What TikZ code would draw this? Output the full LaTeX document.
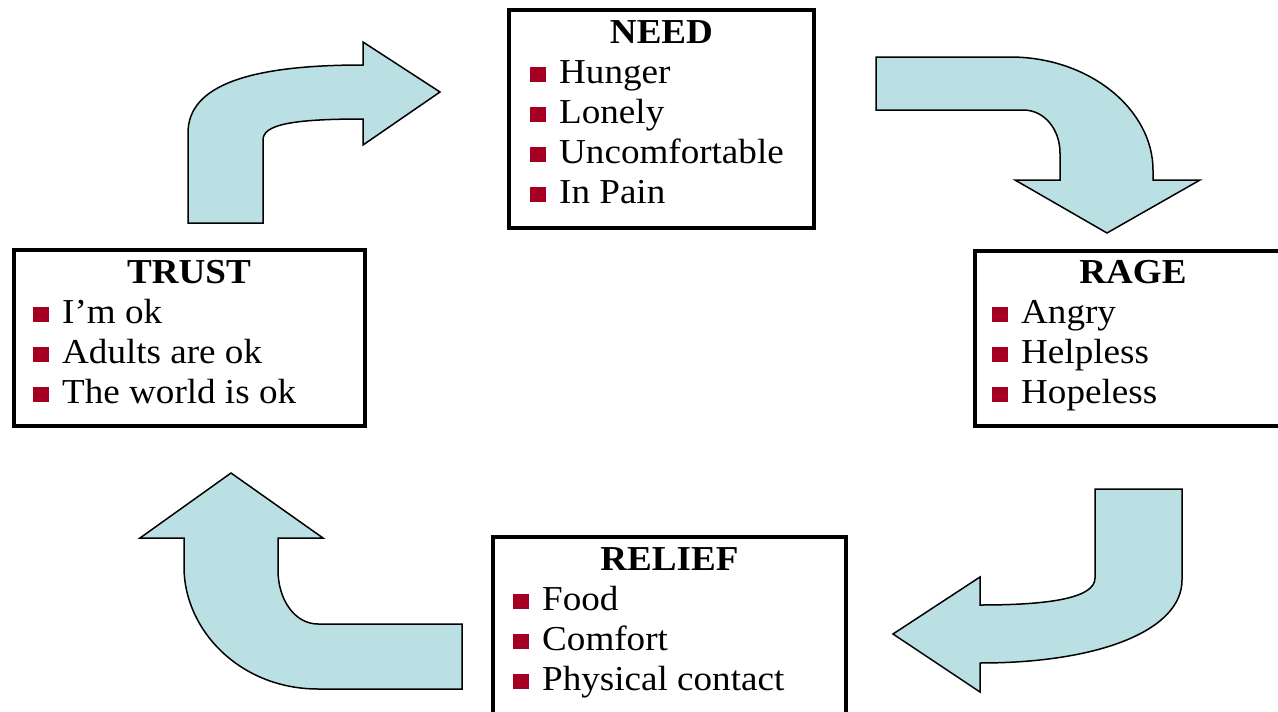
\documentclass[tikz,border=0pt]{standalone}
\usepackage{fontspec}
\setmainfont[FakeStretch=1.06]{Liberation Serif}
\definecolor{bulred}{RGB}{165,0,33}
\definecolor{arrowfill}{RGB}{187,224,227}
\newcommand\bul{{\color{bulred}\rule[1pt]{16pt}{15pt}}\hspace{13pt}}
\begin{document}
\begin{tikzpicture}[x=1pt,y=-1pt,
  box/.style={draw=black,line width=4pt,fill=white,inner sep=0pt,outer sep=0pt},
  ttl/.style={anchor=base,inner sep=0pt,font=\fontsize{35}{40}\selectfont\bfseries},
  itm/.style={anchor=base west,inner sep=0pt,font=\fontsize{35}{40}\selectfont},
  bigarrow/.style={draw=black,line width=1.5pt,fill=arrowfill,line join=miter}]
\path[use as bounding box] (0,0) rectangle (1278,712);
\clip (0,0) rectangle (1278,712);
\fill[white] (0,0) rectangle (1278,712);

% curved arrows
\draw[bigarrow] (188,223) -- (188,133) .. controls (188,85) and (250,65) .. (363,65)
  -- (363,42) -- (440,92) -- (363,145) -- (363,119)
  .. controls (290,119) and (263,125) .. (263,140) -- (263,223) -- cycle;
\draw[bigarrow] (876,57) -- (1010,57) .. controls (1090,57) and (1153,110) .. (1153,170)
  -- (1153,180) -- (1200,180) -- (1107,233) -- (1015,180) -- (1060,180) -- (1060,153)
  .. controls (1060,130) and (1045,110) .. (1023,110) -- (876,110) -- cycle;
\draw[bigarrow] (1095,489) -- (1182,489) -- (1182,580) .. controls (1182,630) and (1100,663) .. (980,663)
  -- (980,692) -- (893,634) -- (980,577) -- (980,605)
  .. controls (1050,605) and (1095,598) .. (1095,578) -- cycle;
\draw[bigarrow] (462,624) -- (462,689) -- (318,689) .. controls (240,689) and (184,630) .. (184,567)
  -- (184,538) -- (140,538) -- (231,473) -- (323,538) -- (278,538) -- (278,570)
  .. controls (278,600) and (295,624) .. (318,624) -- cycle;

% boxes
\node[box,minimum width=305pt,minimum height=217.5pt] (needbox) at (661.5,118.75) {};
\node[box,minimum width=351.5pt,minimum height=175.5pt] (trustbox) at (189.25,337.75) {};
\node[box,minimum width=320pt,minimum height=175pt] (ragebox) at (1135,338.5) {};
\node[box,minimum width=353pt,minimum height=203pt] (reliefbox) at (669.5,638.5) {};

% NEED
\node[ttl] (needt) at (661.5,43) {NEED};
\node[itm] (need1) at (530,83) {\bul Hunger};
\node[itm] (need2) at (530,123) {\bul Lonely};
\node[itm] (need3) at (530,163) {\bul Uncomfortable};
\node[itm] (need4) at (530,203) {\bul In Pain};

% TRUST
\node[ttl] (trustt) at (189,283) {TRUST};
\node[itm] (trust1) at (33,323) {\bul I’m ok};
\node[itm] (trust2) at (33,363) {\bul Adults are ok};
\node[itm] (trust3) at (33,403) {\bul The world is ok};

% RAGE
\node[ttl] (raget) at (1133,283) {RAGE};
\node[itm] (rage1) at (992,323) {\bul Angry};
\node[itm] (rage2) at (992,363) {\bul Helpless};
\node[itm] (rage3) at (992,403) {\bul Hopeless};

% RELIEF
\node[ttl] (relieft) at (669.5,570) {RELIEF};
\node[itm] (relief1) at (513,610) {\bul Food};
\node[itm] (relief2) at (513,650) {\bul Comfort};
\node[itm] (relief3) at (513,690) {\bul Physical contact};
\end{tikzpicture}
\end{document}
